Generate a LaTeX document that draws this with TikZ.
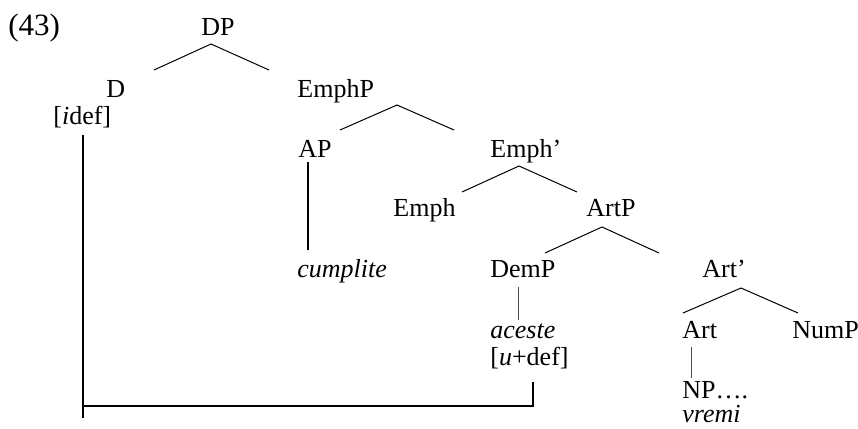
\documentclass[tikz,border=0pt]{standalone}
\usepackage{fontspec}
\setmainfont{Liberation Serif}
\begin{document}
\begin{tikzpicture}[x=0.5pt,y=-0.5pt,
  every node/.style={anchor=base west,inner sep=0pt,font=\fontsize{13}{15}\selectfont},
  branch/.style={line width=0.5pt},
  stem/.style={line width=1pt},
  thinstem/.style={line width=0.5pt,black!70}]
\useasboundingbox (0,0) rectangle (858,429);
\node[font=\fontsize{15.5}{18}\selectfont] (ex) at (8,35) {(43)};
\node (DP) at (201,35) {DP};
\node (D) at (106,97) {D};
\node (Dfeat) at (53,124) {[\textit{i}def]};
\node (EmphP) at (297,97) {EmphP};
\node (AP) at (298,157) {AP};
\node (cumplite) at (297,277) {\textit{cumplite}};
\node (Emphbar) at (490,157) {Emph’};
\node (Emph) at (393,216) {Emph};
\node (ArtP) at (586,216) {ArtP};
\node (DemP) at (490,277) {DemP};
\node (Artbar) at (702,277) {Art’};
\node (aceste) at (490,338) {\textit{aceste}};
\node (Demfeat) at (490,365) {[\textit{u}+def]};
\node (Art) at (682,338) {Art};
\node (NumP) at (792,338) {NumP};
\node (NP) at (682,398) {NP….};
\node (vremi) at (682,422) {\textit{vremi}};
% branches
\coordinate (DP-top) at (211,44);
\coordinate (DP-l) at (154,70);
\coordinate (DP-r) at (269,70);
\coordinate (EmphP-top) at (397,105);
\coordinate (EmphP-l) at (340,130);
\coordinate (EmphP-r) at (454,130);
\coordinate (Emphbar-top) at (519,166);
\coordinate (Emphbar-l) at (462,192);
\coordinate (Emphbar-r) at (577,192);
\coordinate (ArtP-top) at (602,227);
\coordinate (ArtP-l) at (545,253);
\coordinate (ArtP-r) at (659,253);
\coordinate (Artbar-top) at (741,288);
\coordinate (Artbar-l) at (683,313);
\coordinate (Artbar-r) at (798,313);
\draw[branch] (DP-l) -- (DP-top) -- (DP-r);
\draw[branch] (EmphP-l) -- (EmphP-top) -- (EmphP-r);
\draw[branch] (Emphbar-l) -- (Emphbar-top) -- (Emphbar-r);
\draw[branch] (ArtP-l) -- (ArtP-top) -- (ArtP-r);
\draw[branch] (Artbar-l) -- (Artbar-top) -- (Artbar-r);
% stems
\coordinate (AP-bot) at (308,162);
\coordinate (cumplite-top) at (308,250);
\coordinate (DemP-bot) at (518,287);
\coordinate (aceste-top) at (518,320);
\coordinate (Art-bot) at (691,347);
\coordinate (NP-top) at (691,378);
\draw[stem] (AP-bot) -- (cumplite-top);
\draw[thinstem] (DemP-bot) -- (aceste-top);
\draw[thinstem] (Art-bot) -- (NP-top);
% agree link
\coordinate (Dfeat-bot) at (83,135);
\coordinate (link-end) at (83,418);
\coordinate (link-l) at (83,406);
\coordinate (link-r) at (533,406);
\coordinate (Demfeat-bot) at (533,382);
\draw[stem] (Dfeat-bot) -- (link-end);
\draw[stem] (link-l) -- (link-r) -- (Demfeat-bot);
\end{tikzpicture}
\end{document}
